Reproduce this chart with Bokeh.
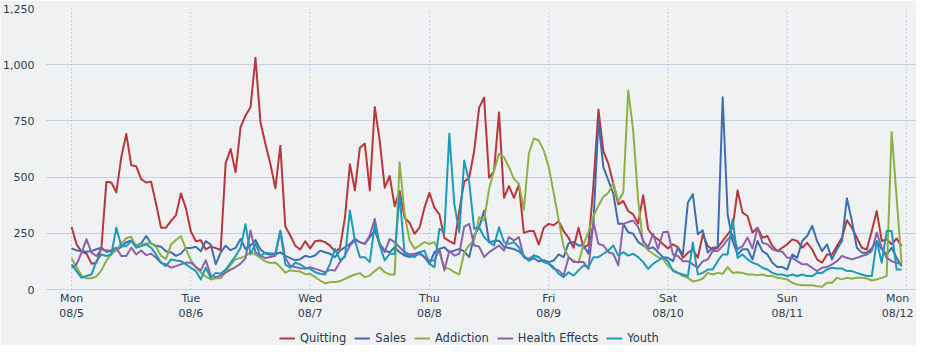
from bokeh.plotting import figure
from bokeh.models import (Range1d, FixedTicker, NumeralTickFormatter, Legend, LegendItem,
                          ColumnDataSource)
from bokeh.core.properties import value
from bokeh.embed import file_html
from bokeh.resources import INLINE

# hourly values, Mon 08/5 00:00 .. Sun 08/11 23:00
hours = list(range(168))
day_ticks = [0, 24, 48, 72, 96, 120, 144, 168]
day_names = ["Mon", "Tue", "Wed", "Thu", "Fri", "Sat", "Sun", "Mon"]
day_dates = ["08/5", "08/6", "08/7", "08/8", "08/9", "08/10", "08/11", "08/12"]
y_ticks = [0, 250, 500, 750, 1000, 1250]

quitting = [
    278, 201, 168, 160, 115, 119, 186, 479, 476, 432, 588, 692, 553, 548, 491, 476, 479, 380, 275, 275, 305, 330, 427, 362,
    258, 215, 219, 178, 192, 184, 176, 562, 625, 521, 722, 774, 811, 1031, 744, 647, 558, 450, 640, 280, 240, 195, 178, 215,
    183, 215, 218, 211, 195, 168, 185, 320, 557, 441, 631, 649, 441, 812, 661, 453, 505, 371, 438, 319, 297, 248, 275, 364,
    430, 364, 334, 230, 215, 203, 349, 480, 497, 616, 809, 854, 497, 527, 787, 408, 460, 408, 468, 252, 260, 260, 200, 275,
    292, 286, 304, 260, 230, 186, 275, 186, 200, 468, 801, 615, 560, 470, 379, 394, 349, 334, 293, 419, 268, 238, 223, 201,
    183, 201, 189, 141, 163, 178, 141, 245, 193, 178, 186, 216, 245, 275, 441, 342, 327, 253, 275, 230, 238, 193, 171, 186,
    201, 223, 216, 186, 208, 178, 134, 119, 156, 156, 193, 230, 308, 275, 230, 186, 178, 260, 349, 216, 223, 201, 227, 193]

sales = [
    183, 174, 171, 168, 171, 179, 186, 168, 170, 175, 190, 210, 218, 195, 205, 238, 205, 195, 190, 170, 165, 150, 160, 185,
    185, 190, 170, 215, 200, 112, 165, 195, 175, 185, 225, 180, 195, 220, 178, 160, 155, 158, 165, 150, 140, 130, 135, 150,
    144, 151, 173, 166, 159, 144, 173, 188, 203, 225, 211, 203, 233, 262, 203, 173, 166, 188, 166, 151, 144, 151, 159, 144,
    114, 166, 181, 188, 166, 173, 181, 170, 144, 240, 277, 351, 211, 215, 218, 190, 185, 180, 170, 150, 129, 140, 125, 130,
    122, 129, 156, 144, 206, 211, 196, 196, 159, 300, 748, 544, 485, 426, 292, 292, 255, 248, 211, 196, 181, 188, 166, 144,
    141, 126, 186, 156, 387, 424, 246, 263, 164, 186, 189, 855, 335, 216, 156, 179, 179, 134, 216, 171, 156, 119, 100, 100,
    89, 156, 141, 216, 238, 283, 216, 171, 201, 134, 179, 216, 406, 305, 186, 164, 164, 183, 216, 179, 156, 186, 141, 104]

addiction = [
    138, 100, 62, 50, 50, 58, 85, 128, 158, 175, 205, 228, 235, 192, 200, 205, 205, 190, 150, 135, 200, 220, 238, 180,
    130, 100, 75, 58, 45, 50, 50, 78, 110, 135, 140, 150, 165, 155, 140, 125, 118, 120, 100, 75, 85, 82, 80, 68,
    70, 55, 40, 28, 33, 33, 37, 47, 58, 67, 73, 55, 62, 82, 99, 77, 67, 67, 566, 337, 218, 181, 196, 211,
    203, 211, 166, 99, 92, 77, 67, 165, 198, 220, 321, 308, 447, 529, 604, 589, 544, 492, 470, 355, 604, 672, 663, 618,
    545, 430, 310, 190, 145, 128, 120, 200, 258, 325, 373, 413, 430, 474, 392, 432, 885, 707, 396, 203, 174, 159, 144, 136,
    105, 89, 74, 60, 52, 36, 40, 49, 74, 67, 74, 70, 100, 74, 77, 74, 67, 67, 64, 67, 60, 60, 52, 49,
    45, 30, 22, 19, 19, 19, 15, 12, 30, 30, 52, 45, 52, 48, 52, 52, 49, 40, 45, 52, 60, 700, 410, 115]

health_effects = [
    97, 112, 164, 223, 164, 149, 179, 174, 174, 186, 149, 149, 186, 156, 174, 153, 159, 141, 119, 112, 97, 104, 112, 119,
    120, 100, 85, 130, 62, 55, 62, 75, 88, 100, 115, 140, 263, 165, 150, 140, 145, 150, 262, 140, 105, 100, 95, 92,
    99, 92, 85, 77, 87, 85, 122, 151, 196, 218, 211, 203, 240, 314, 196, 166, 225, 211, 188, 166, 156, 159, 166, 144,
    129, 129, 181, 85, 173, 151, 159, 280, 292, 196, 191, 144, 166, 181, 196, 173, 233, 218, 233, 144, 136, 151, 144, 122,
    115, 92, 85, 62, 144, 122, 122, 122, 92, 300, 203, 196, 166, 159, 107, 292, 300, 307, 277, 218, 188, 248, 181, 255,
    257, 156, 149, 126, 126, 112, 97, 126, 134, 171, 171, 193, 223, 245, 179, 193, 231, 183, 275, 208, 201, 179, 171, 168,
    141, 141, 126, 112, 112, 97, 82, 97, 100, 112, 126, 149, 141, 134, 141, 149, 156, 171, 253, 186, 141, 126, 119, 112]

youth = [
    112, 82, 52, 60, 67, 126, 156, 149, 156, 275, 193, 193, 216, 186, 193, 201, 186, 156, 119, 104, 134, 129, 126, 112,
    97, 82, 45, 97, 52, 74, 70, 89, 119, 149, 186, 290, 156, 204, 149, 164, 160, 160, 260, 112, 97, 119, 112, 97,
    92, 77, 70, 67, 114, 181, 132, 144, 351, 218, 144, 144, 122, 292, 196, 129, 159, 159, 418, 159, 151, 144, 166, 173,
    114, 99, 270, 255, 693, 381, 255, 574, 478, 270, 277, 233, 211, 196, 277, 211, 203, 211, 188, 144, 129, 151, 144, 122,
    117, 99, 70, 55, 77, 62, 85, 107, 99, 144, 144, 159, 174, 196, 151, 166, 151, 159, 144, 122, 92, 114, 129, 144,
    126, 82, 74, 67, 60, 208, 67, 74, 89, 89, 126, 156, 156, 312, 141, 156, 134, 119, 112, 97, 89, 74, 67, 67,
    60, 67, 60, 67, 60, 60, 74, 74, 89, 97, 94, 94, 82, 82, 74, 67, 60, 60, 216, 119, 260, 260, 89, 89]

series_names = ["Quitting", "Sales", "Addiction", "Health Effects", "Youth"]
series_values = [quitting, sales, addiction, health_effects, youth]
colors = ["#b8373a", "#3d6db2", "#8cb043", "#8b62a9", "#1a9bba"]

BG = "#f0f1f3"
FONT = "DejaVu Sans"
TXT = "#2f3b4e"

# frame: 1,250 at top (y=8), 0 at y=289, frame bottom at y=345 -> lower limit -249
p = figure(width=916, height=345, output_backend="svg", toolbar_location=None,
           x_range=Range1d(-5.25, 170.0), y_range=Range1d(-249, 1250),
           background_fill_color=BG, border_fill_color=BG, outline_line_color=None,
           min_border_top=8, min_border_right=0, min_border_left=20, min_border_bottom=0)

# vertical dotted day lines
p.segment(x0=day_ticks, y0=[0] * len(day_ticks), x1=day_ticks, y1=[1250] * len(day_ticks),
          line_color="#a3aec4", line_dash="1 3", line_width=1)

items = []
for name, vals, col in zip(series_names, series_values, colors):
    src = ColumnDataSource(dict(x=hours, y=vals))
    r = p.line("x", "y", source=src, line_color=col, line_width=2, line_join="round")
    items.append(LegendItem(label=name, renderers=[r]))

# day labels (x axis); the last one is nudged left so it stays inside the canvas
label_src = ColumnDataSource(dict(x=day_ticks, name=day_names, date=day_dates,
                                  dx=[0, 0, 0, 0, 0, 0, 0, -9]))
p.text(x="x", y=-40, text="name", x_offset="dx", source=label_src, text_align="center",
       text_baseline="middle", text_font=value(FONT), text_font_size="11px", text_color=TXT)
p.text(x="x", y=-107, text="date", x_offset="dx", source=label_src, text_align="center",
       text_baseline="middle", text_font=value(FONT), text_font_size="11px", text_color=TXT)

p.xaxis.visible = False
p.xgrid.visible = False

p.yaxis.ticker = FixedTicker(ticks=y_ticks)
p.yaxis.formatter = NumeralTickFormatter(format="0,0")
p.yaxis.axis_line_color = None
p.yaxis.major_tick_line_color = None
p.yaxis.minor_tick_line_color = None
p.yaxis.major_label_text_font = FONT
p.yaxis.major_label_text_font_size = "11px"
p.yaxis.major_label_text_color = TXT
p.yaxis.major_label_standoff = 5

p.ygrid.ticker = FixedTicker(ticks=y_ticks)
p.ygrid.grid_line_color = "#c6d0e2"
p.ygrid.grid_line_width = 1

legend = Legend(items=items, orientation="horizontal", location=(234, 0),
                background_fill_alpha=0, border_line_color=None,
                label_text_font=FONT, label_text_font_size="11.5px",
                label_text_color="#2b3850", glyph_width=16, glyph_height=10,
                label_height=14, label_standoff=5, spacing=8, padding=2, margin=0)
p.add_layout(legend)

open("out.html", "w").write(file_html(p, INLINE))
